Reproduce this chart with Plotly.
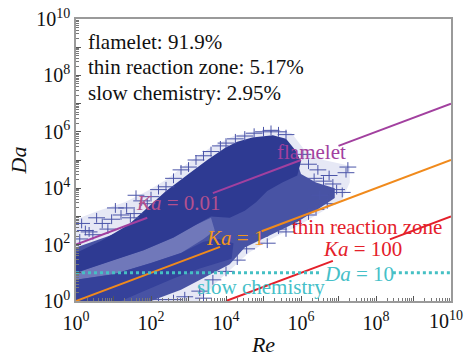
import plotly.graph_objects as go

# ---------------- data (log10 units) ----------------
ka_values = [0.01, 1, 100]
ka_colors = ["#a2409f", "#f08a1c", "#e4202a"]
# visible segments (log10 Re) of each Ka line (gaps where labels sit)
ka_segments = [[(0, 1.9), (3.65, 6.0), (7.0, 10)],
               [(0, 3.84), (4.95, 10)],
               [(4.0, 6.85), (8.37, 10)]]
da_limit = 10
da_segments = [(0, 6.5), (8.45, 10)]

# sparse envelope of the data cloud (logRe, logDa)
env_re = [0, 3.3, 3.7, 4.1, 4.6, 5.2, 5.9, 6.6, 7.1, 7.3, 7.3, 6.6, 6.1, 5.75, 5.3, 4.7, 4.2, 3.6, 3.0, 2.4, 1.9, 1.3, 0.6, 0]
env_da = [0, 0, 0.6, 1.1, 1.7, 2.2, 2.65, 3.2, 3.6, 4.2, 4.8, 5.0, 5.35, 5.95, 6.1, 6.0, 5.85, 5.45, 4.9, 4.3, 3.9, 3.5, 3.2, 2.9]
# medium-density region
med_re = [0, 2.0, 2.8, 3.5, 4.1, 4.5, 5.2, 5.9, 6.5, 6.9, 6.9, 6.4, 6.0, 5.9, 5.5, 3.0, 1.5, 0]
med_da = [0, 0, 0.4, 0.9, 1.3, 1.9, 2.35, 2.8, 3.3, 3.65, 4.0, 4.2, 4.5, 4.9, 5.2, 4.2, 2.6, 1.9]
# lighter gap between the two bands
gap_re = [0, 1.0, 2.0, 2.8, 3.4, 3.7, 3.6, 3.2, 2.6, 1.8, 1.0, 0]
gap_da = [0.75, 0.95, 1.35, 1.7, 2.2, 2.5, 2.95, 2.7, 2.25, 1.8, 1.45, 1.0]
# dense core
core_re = [0, 0.7, 1.4, 1.9, 2.4, 3.0, 3.5, 4.0, 4.3, 4.7, 5.25, 5.6, 5.85, 6.0, 5.9, 5.5, 5.1, 4.8, 4.5, 4.1, 3.6, 3.2, 2.6, 1.8, 1.0, 0]
core_da = [1.7, 2.15, 2.7, 3.3, 3.9, 4.5, 5.0, 5.45, 5.65, 5.8, 5.88, 5.75, 5.35, 4.95, 4.45, 4.2, 3.9, 3.5, 3.2, 2.95, 3.0, 2.7, 2.25, 1.8, 1.45, 1.0]
# lower dense band along Ka = 1
band_re = [0, 1.2, 1.8, 2.6, 3.3, 3.75, 4.15, 4.2, 3.8, 3.4, 2.8, 2.0, 1.0, 0]
band_da = [0, 0, 0.35, 0.8, 1.15, 1.35, 1.5, 2.05, 2.2, 2.1, 1.7, 1.35, 0.95, 0.75]
# individual fringe points
pts_re = [0.1, 0.25, 0.45, 0.7, 0.95, 1.2, 1.35, 1.55, 1.75, 2.0, 2.2, 0.15, 0.55, 1.05, 1.6, 2.6, 2.8, 3.2,
          3.6, 4.0, 4.5, 5.0, 5.4, 0.35, 0.85, 1.45, 1.9, 2.4, 3.0, 3.4, 3.85, 4.25, 4.75, 5.2, 5.6,
          6.05, 6.2, 6.45, 6.75, 7.2, 7.25, 6.6, 6.95, 7.1, 6.35, 6.7, 6.5, 6.85,
          4.9, 5.4, 5.8, 6.2, 4.55, 4.3, 4.0, 3.65, 3.3, 2.9, 5.1, 5.6, 6.4,
          2.2, 2.6, 3.4]
pts_da = [2.2, 2.5, 2.35, 2.75, 2.9, 3.05, 3.3, 3.1, 3.55, 3.7, 3.95, 2.75, 2.95, 3.3, 3.75, 4.35, 4.65, 5.0,
          5.3, 5.6, 5.85, 6.0, 6.0, 2.45, 2.55, 2.95, 3.45, 4.05, 4.75, 5.15, 5.5, 5.75, 5.95, 6.05, 5.9,
          5.2, 4.85, 4.65, 4.45, 4.55, 4.75, 4.25, 3.95, 3.85, 4.35, 3.45, 3.75, 4.15,
          2.3, 2.55, 2.75, 3.05, 1.85, 1.45, 1.05, 0.75, 0.35, 0.15, 2.05, 2.45, 3.25,
          0.05, 0.05, 0.1]

stats_text = ["flamelet: 91.9%", "thin reaction zone: 5.17%", "slow chemistry: 2.95%"]
tick_exps = list(range(0, 11))

# ---------------- figure ----------------
SERIF = "Liberation Serif"
fig = go.Figure()

def poly(re, da, color):
    fig.add_trace(go.Scatter(x=[10 ** v for v in re], y=[10 ** v for v in da], mode="lines",
                             fill="toself", fillcolor=color, line=dict(width=0),
                             hoverinfo="skip", showlegend=False))

poly(env_re, env_da, "#e6e8f5")
poly(med_re, med_da, "#4853a4")
poly(gap_re, gap_da, "#7078ba")
poly(core_re, core_da, "#2e3a92")
poly(band_re, band_da, "#35419a")

px = [10 ** v for v in pts_re]
py = [10 ** v for v in pts_da]
fig.add_trace(go.Scatter(x=px, y=py, mode="markers",
                         marker=dict(symbol="line-ew", size=12, line=dict(width=1, color="#4a54a8")),
                         hoverinfo="skip", showlegend=False))
fig.add_trace(go.Scatter(x=px, y=py, mode="markers",
                         marker=dict(symbol="line-ns", size=7, line=dict(width=1, color="#4a54a8")),
                         hoverinfo="skip", showlegend=False))

# Ka lines: Da = Re^(1/2) / Ka
for ka, col, segs in zip(ka_values, ka_colors, ka_segments):
    xs, ys = [], []
    for a, b in segs:
        xs += [10 ** a, 10 ** b, None]
        ys += [10 ** (a / 2) / ka, 10 ** (b / 2) / ka, None]
    fig.add_trace(go.Scatter(x=xs, y=ys, mode="lines", line=dict(color=col, width=2),
                             hoverinfo="skip", showlegend=False))

xs, ys = [], []
for a, b in da_segments:
    xs += [10 ** a, 10 ** b, None]
    ys += [da_limit, da_limit, None]
fig.add_trace(go.Scatter(x=xs, y=ys, mode="lines", line=dict(color="#45c0c4", width=3, dash="dot"),
                         hoverinfo="skip", showlegend=False))

labels = [
    ("flamelet", 6.29, 5.28, "#a2409f"),
    ("<i>Ka</i> = 0.01", 2.72, 3.48, "#b4508e"),
    ("<i>Ka</i> = 1", 4.24, 2.23, "#f0961e"),
    ("thin reaction zone", 7.76, 2.62, "#e4202a"),
    ("<i>Ka</i> = 100", 7.63, 1.84, "#e4202a"),
    ("<i>Da</i> = 10", 7.55, 0.96, "#45c0c8"),
    ("slow chemistry", 4.93, 0.50, "#45c0c8"),
]
for t, x, y, c in labels:
    fig.add_annotation(x=x, y=y, text=t, showarrow=False, xanchor="center", yanchor="middle",
                       font=dict(family=SERIF, size=21, color=c))

for i, t in enumerate(stats_text):
    fig.add_annotation(xref="paper", yref="paper", x=0.027, y=[0.918, 0.830, 0.738][i], text=t,
                       showarrow=False, xanchor="left", yanchor="middle",
                       font=dict(family=SERIF, size=21, color="#111111"))

tickvals = [10 ** e for e in tick_exps]
ticktext = [f"10<sup>{e}</sup>" if e % 2 == 0 else "" for e in tick_exps]
# last x tick label is placed so that it stays inside the page
x_ticktext = ticktext[:-1] + [""]
fig.add_annotation(xref="x", yref="paper", x=tick_exps[-1], y=0, text=ticktext[-1], showarrow=False,
                   xanchor="right", yanchor="middle", xshift=14, yshift=-19,
                   font=dict(family=SERIF, size=20, color="#111"))

axis_common = dict(type="log", range=[0, 10], tickvals=tickvals,
                   ticks="inside", ticklen=5, tickcolor="#555", showgrid=False, zeroline=False,
                   showline=True, linecolor="#9a9a9a", linewidth=1.5, mirror=True,
                   automargin=False,
                   tickfont=dict(family=SERIF, size=20, color="#111"),
                   minor=dict(ticks="inside", ticklen=3, tickcolor="#777", dtick="D1", showgrid=False))

fig.update_layout(
    width=466, height=358, margin=dict(l=76, r=15, t=19, b=57),
    paper_bgcolor="white", plot_bgcolor="white",
    xaxis=dict(**axis_common, ticktext=x_ticktext, ticklabelstandoff=3,
               title=dict(text="<i>Re</i>", font=dict(family=SERIF, size=22, color="#111"), standoff=4)),
    yaxis=dict(**axis_common, ticktext=ticktext, ticklabeloverflow="allow",
               title=dict(text="<i>Da</i>", font=dict(family=SERIF, size=22, color="#111"), standoff=4)),
)
fig.write_html("out.html")
